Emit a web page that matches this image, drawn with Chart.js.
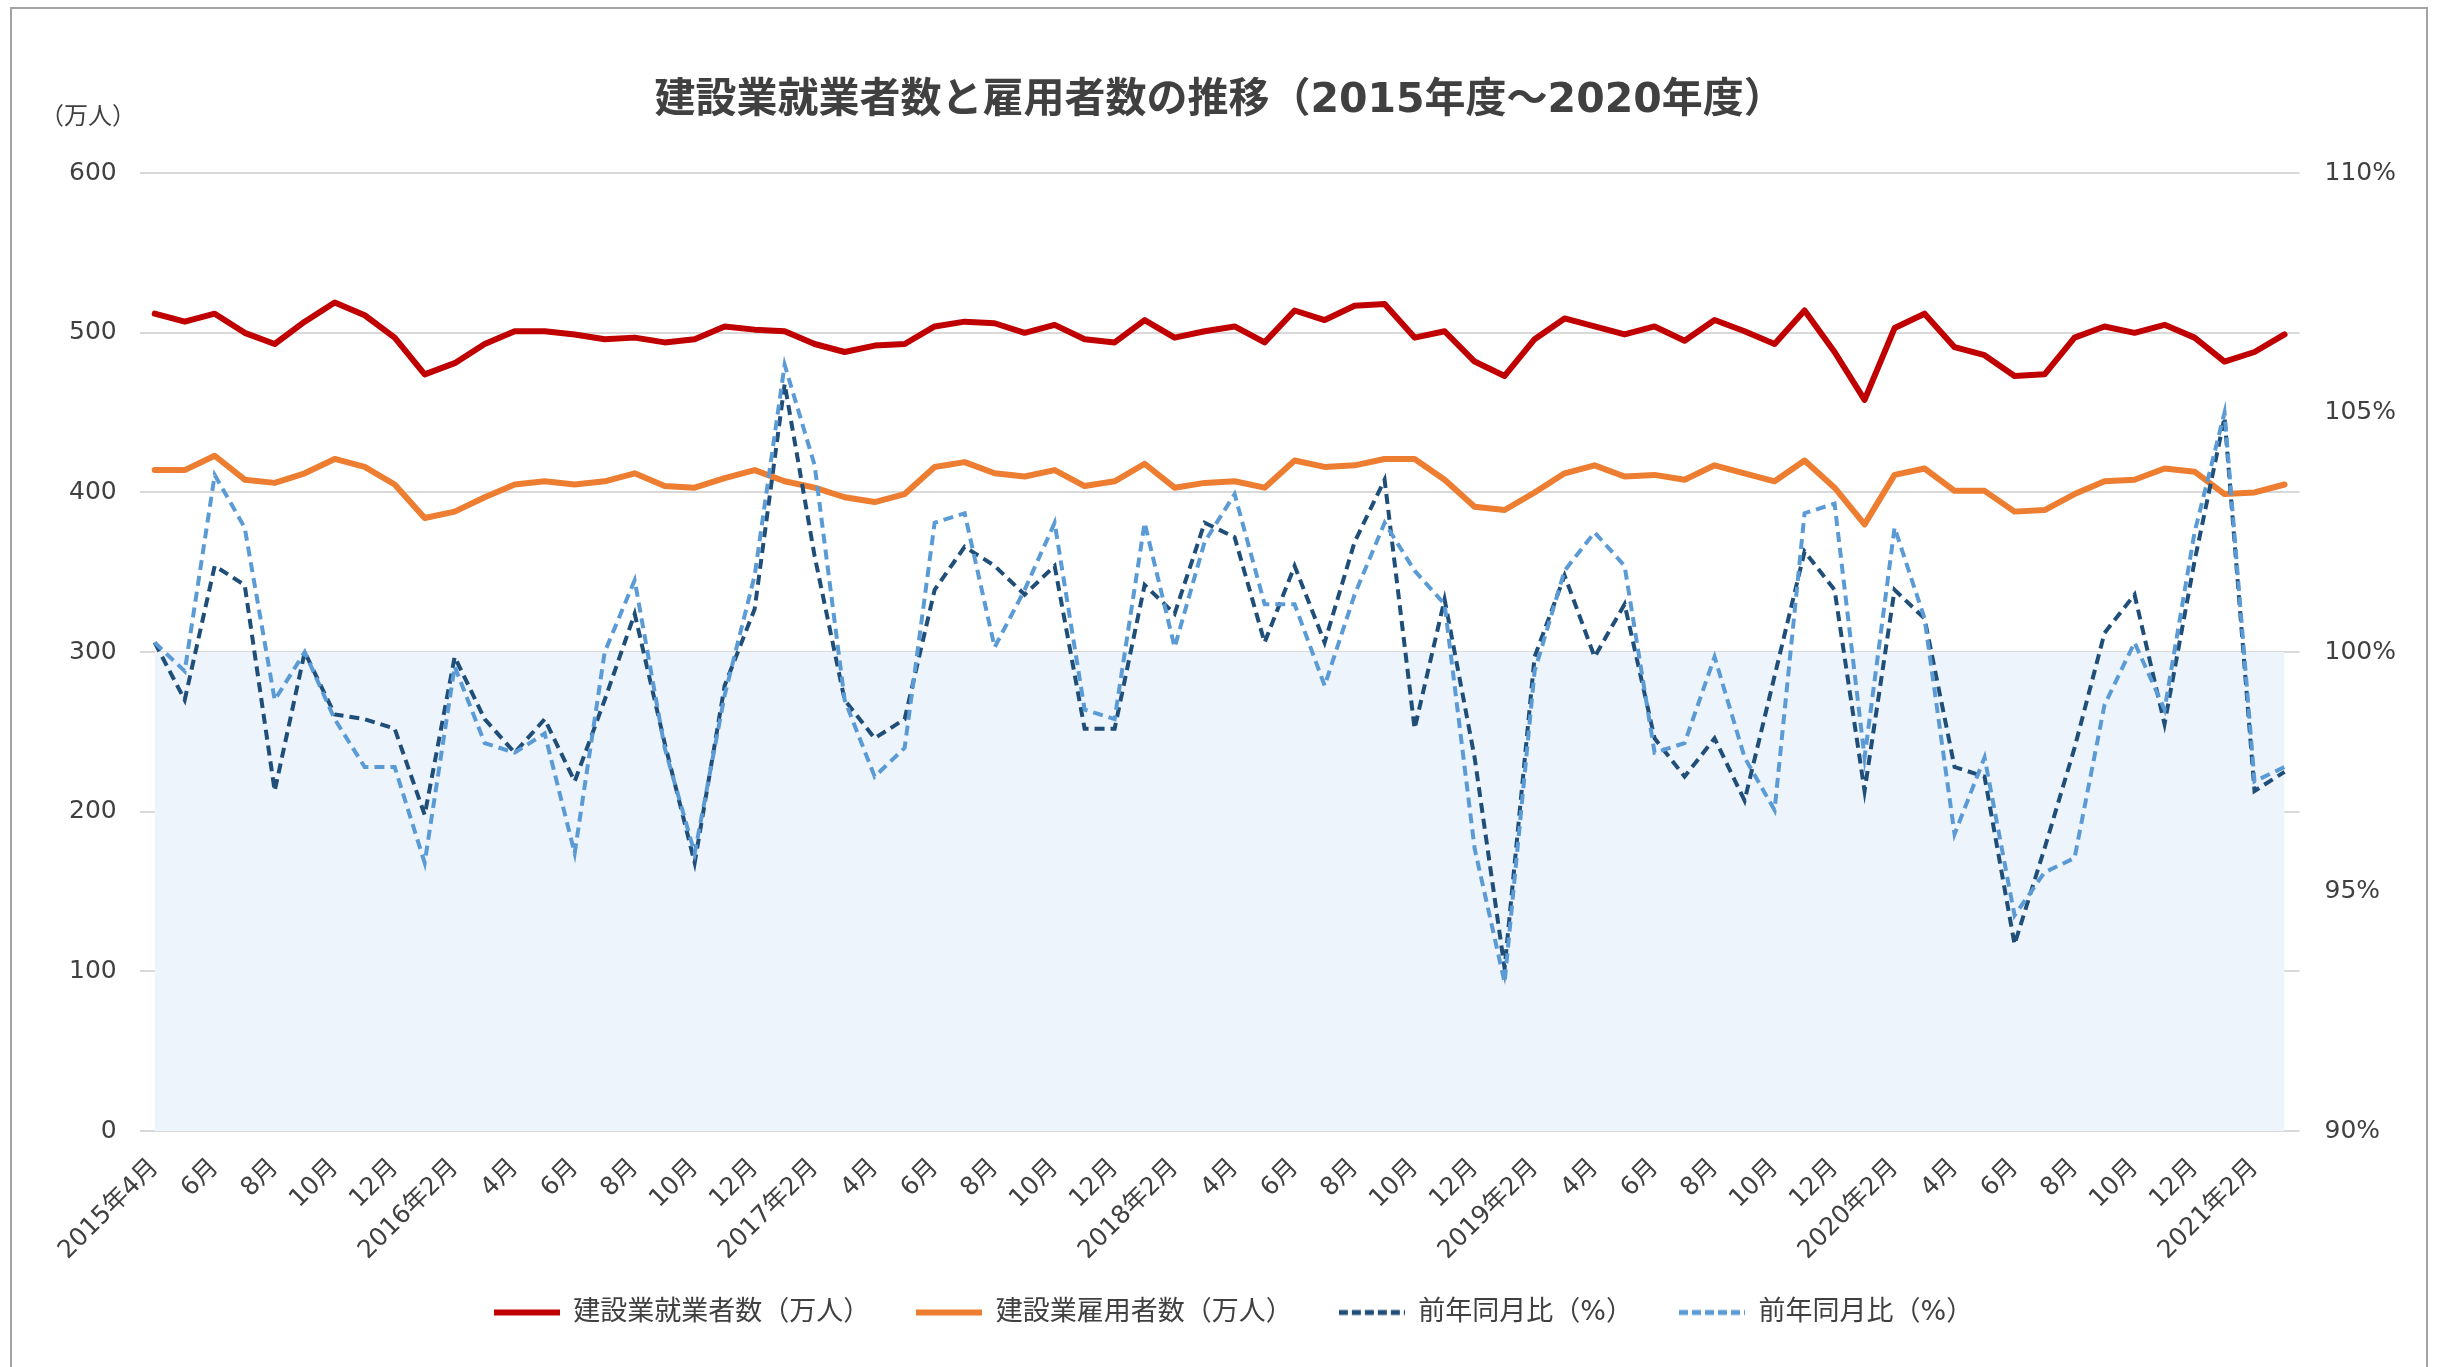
<!DOCTYPE html>
<html lang="ja">
<head>
  <meta charset="UTF-8">
  <title>建設業就業者数と雇用者数の推移</title>
  <script src="https://cdn.jsdelivr.net/npm/chart.js"></script>
  <style>
    html, body {
      margin: 0;
      padding: 0;
      background: #fff;
      overflow: hidden;
    }
    #frame {
      position: absolute;
      left: 10px;
      top: 7px;
      width: 2414px;
      height: 1500px;
      border: 2px solid #a3a3a3;
      pointer-events: none;
    }
    canvas {
      position: absolute;
      left: 0;
      top: 0;
    }
  </style>
</head>
<body>

  <canvas id="chart" width="2438" height="1367"></canvas>
  <div id="frame"></div>

  <script>
    // 2015年4月〜2021年3月（月次）、目盛は2か月ごと
    const tickLabels = [
      '2015年4月', '', '6月', '', '8月', '', '10月', '', '12月', '', '2016年2月', '',
      '4月', '', '6月', '', '8月', '', '10月', '', '12月', '', '2017年2月', '',
      '4月', '', '6月', '', '8月', '', '10月', '', '12月', '', '2018年2月', '',
      '4月', '', '6月', '', '8月', '', '10月', '', '12月', '', '2019年2月', '',
      '4月', '', '6月', '', '8月', '', '10月', '', '12月', '', '2020年2月', '',
      '4月', '', '6月', '', '8月', '', '10月', '', '12月', '', '2021年2月', ''
    ];

    // 建設業就業者数（万人）
    const workers = [
      512, 507, 512, 500, 493, 507, 519, 511, 497, 474, 481, 493,
      501, 501, 499, 496, 497, 494, 496, 504, 502, 501, 493, 488,
      492, 493, 504, 507, 506, 500, 505, 496, 494, 508, 497, 501,
      504, 494, 514, 508, 517, 518, 497, 501, 482, 473, 496, 509,
      504, 499, 504, 495, 508, 501, 493, 514, 488, 458, 503, 512,
      491, 486, 473, 474, 497, 504, 500, 505, 497, 482, 488, 499
    ];

    // 建設業雇用者数（万人）
    const employees = [
      414, 414, 423, 408, 406, 412, 421, 416, 405, 384, 388, 397,
      405, 407, 405, 407, 412, 404, 403, 409, 414, 407, 403, 397,
      394, 399, 416, 419, 412, 410, 414, 404, 407, 418, 403, 406,
      407, 403, 420, 416, 417, 421, 421, 408, 391, 389, 400, 412,
      417, 410, 411, 408, 417, 412, 407, 420, 403, 380, 411, 415,
      401, 401, 388, 389, 399, 407, 408, 415, 413, 399, 400, 405
    ];

    // 前年同月比（%）就業者
    const workersYoY = [
      100.2, 99.0, 101.8, 101.4, 97.1, 100.0, 98.7, 98.6, 98.4, 96.6, 99.9, 98.6,
      97.9, 98.6, 97.3, 99.0, 100.8, 98.1, 95.6, 99.3, 100.9, 105.6, 102.0, 99.0,
      98.2, 98.6, 101.3, 102.2, 101.8, 101.2, 101.8, 98.4, 98.4, 101.4, 100.8, 102.7,
      102.4, 100.2, 101.8, 100.2, 102.3, 103.6, 98.4, 101.1, 97.8, 93.4, 99.9, 101.6,
      99.9, 101.0, 98.2, 97.4, 98.2, 96.9, 99.5, 102.1, 101.3, 97.1, 101.3, 100.7,
      97.6, 97.4, 93.9, 95.9, 98.0, 100.4, 101.2, 98.5, 101.9, 104.9, 97.1, 97.5
    ];

    // 前年同月比（%）雇用者
    const employeesYoY = [
      100.2, 99.6, 103.7, 102.6, 99.0, 100.0, 98.6, 97.6, 97.6, 95.6, 99.7, 98.1,
      97.9, 98.3, 95.8, 100.0, 101.5, 98.0, 95.8, 99.1, 101.6, 106.0, 103.9, 99.0,
      97.4, 98.0, 102.7, 102.9, 100.1, 101.3, 102.7, 98.8, 98.6, 102.7, 100.1, 102.3,
      103.3, 101.0, 101.0, 99.3, 101.2, 102.7, 101.7, 101.0, 95.9, 93.1, 99.6, 101.7,
      102.5, 101.8, 97.9, 98.1, 99.9, 97.8, 96.7, 102.9, 103.1, 97.8, 102.6, 100.7,
      96.2, 97.8, 94.5, 95.4, 95.7, 98.9, 100.2, 98.8, 102.5, 105.0, 97.3, 97.6
    ];

    // 100%ライン以下を薄く塗る
    const baseLevel = tickLabels.map(() => 100);

    const FONT = "'DejaVu Sans', 'Noto Sans CJK JP', sans-serif";
    const TEXT = '#404040';

    // 凡例用の線見本（破線が潰れないよう画像で渡す）
    function lineSample(color, width, dash) {
      const c = document.createElement('canvas');
      c.width = 66;
      c.height = 10;
      const g = c.getContext('2d');
      g.strokeStyle = color;
      g.lineWidth = width;
      g.setLineDash(dash);
      g.beginPath();
      g.moveTo(0, 5);
      g.lineTo(66, 5);
      g.stroke();
      return c;
    }

    const unitLabel = {
      id: 'unitLabel',
      afterDraw(chart) {
        const ctx = chart.ctx;
        ctx.save();
        ctx.font = '24px ' + FONT;
        ctx.fillStyle = TEXT;
        ctx.textAlign = 'center';
        ctx.textBaseline = 'middle';
        ctx.fillText('（万人）', 88, 118);
        ctx.restore();
      }
    };

    const ctx = document.getElementById('chart').getContext('2d');
    new Chart(ctx, {
      type: 'line',
      data: {
        labels: tickLabels,
        datasets: [
          {
            label: '建設業就業者数（万人）',
            data: workers,
            borderColor: '#C00000',
            backgroundColor: '#C00000',
            borderWidth: 6,
            borderJoinStyle: 'round',
            borderCapStyle: 'round',
            pointStyle: lineSample('#C00000', 6, []),
            yAxisID: 'y',
            order: 4
          },
          {
            label: '建設業雇用者数（万人）',
            data: employees,
            borderColor: '#ED7D31',
            backgroundColor: '#ED7D31',
            borderWidth: 6,
            borderJoinStyle: 'round',
            borderCapStyle: 'round',
            pointStyle: lineSample('#ED7D31', 6, []),
            yAxisID: 'y',
            order: 3
          },
          {
            label: '前年同月比（%）',
            data: workersYoY,
            borderColor: '#1F4E79',
            backgroundColor: '#1F4E79',
            borderWidth: 4,
            borderDash: [10, 6],
            pointStyle: lineSample('#1F4E79', 5, [9, 4]),
            yAxisID: 'y2',
            order: 2
          },
          {
            label: '前年同月比（%）',
            data: employeesYoY,
            borderColor: '#5B9BD5',
            backgroundColor: '#5B9BD5',
            borderWidth: 4,
            borderDash: [10, 6],
            pointStyle: lineSample('#5B9BD5', 5, [9, 4]),
            yAxisID: 'y2',
            order: 1
          },
          {
            label: 'base',
            data: baseLevel,
            borderWidth: 0,
            borderColor: 'rgba(0,0,0,0)',
            backgroundColor: '#EDF4FB',
            fill: 'start',
            yAxisID: 'y2',
            order: 10
          }
        ]
      },
      options: {
        responsive: false,
        animation: false,
        devicePixelRatio: 1,
        elements: {
          point: { radius: 0, hoverRadius: 0 },
          line: { tension: 0 }
        },
        layout: {
          padding: { left: 46, right: 17, top: 10, bottom: 31 }
        },
        plugins: {
          title: {
            display: true,
            fullSize: false,
            text: '建設業就業者数と雇用者数の推移（2015年度〜2020年度）',
            color: TEXT,
            font: { family: FONT, size: 41, weight: 'bold', lineHeight: 1.2 },
            padding: { top: 67, bottom: 47 }
          },
          legend: {
            position: 'bottom',
            labels: {
              color: TEXT,
              font: { family: FONT, size: 27 },
              usePointStyle: true,
              pointStyleWidth: 66,
              boxHeight: 27,
              padding: 46,
              filter: (item) => item.datasetIndex !== 4,
              sort: (a, b) => a.datasetIndex - b.datasetIndex
            }
          },
          tooltip: { enabled: false }
        },
        scales: {
          x: {
            offset: true,
            grid: { display: false },
            border: { display: false },
            ticks: {
              color: TEXT,
              font: { family: FONT, size: 25 },
              autoSkip: false,
              minRotation: 45,
              maxRotation: 45,
              padding: 14
            },
            afterFit(scale) {
              // 目盛ラベルは凡例の余白にはみ出してよい
              scale.height = 122;
              scale.paddingLeft = 0;
              scale.paddingRight = 0;
              scale._computeLabelArea = () => null;
            }
          },
          y: {
            position: 'left',
            min: 0,
            max: 600,
            grid: { color: '#D9D9D9', lineWidth: 2, drawTicks: false },
            border: { display: false },
            ticks: {
              stepSize: 100,
              color: TEXT,
              font: { family: FONT, size: 25 },
              padding: 23
            }
          },
          y2: {
            position: 'right',
            min: 90,
            max: 110,
            grid: { display: false, drawTicks: false },
            border: { display: false },
            ticks: {
              stepSize: 5,
              color: TEXT,
              font: { family: FONT, size: 25 },
              padding: 25,
              callback: (v) => v + '%'
            }
          }
        }
      },
      plugins: [unitLabel]
    });
  </script>

</body>
</html>
